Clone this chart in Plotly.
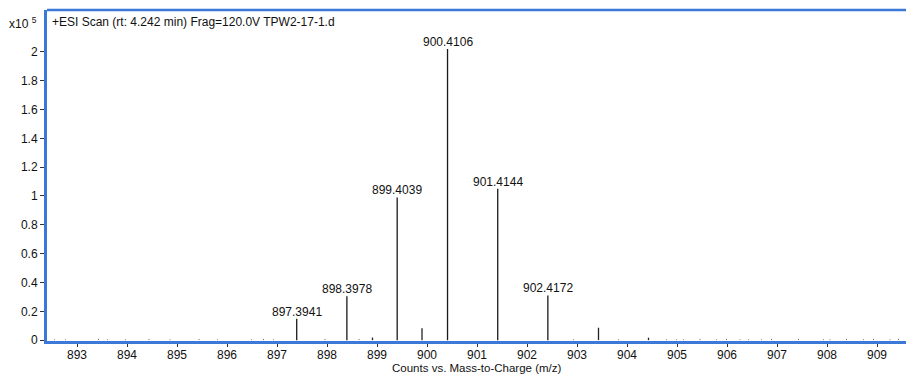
import plotly.graph_objects as go

# Labeled peaks (m/z, counts x10^5)
peak_mz = [897.3941, 898.3978, 899.4039, 900.4106, 901.4144, 902.4172]
peak_h = [0.148, 0.305, 0.99, 2.02, 1.05, 0.31]
peak_labels = ["897.3941", "898.3978", "899.4039", "900.4106", "901.4144", "902.4172"]

# Unlabeled small peaks
small_mz = [899.90, 903.43, 898.91, 904.43]
small_h = [0.083, 0.086, 0.018, 0.017]

# Baseline noise
noise_mz = [892.55, 892.77, 893.43, 893.61, 893.97, 894.44, 894.86, 895.44, 895.81,
            896.49, 896.73, 896.93, 897.96, 898.64, 902.93, 903.83, 904.79, 904.99,
            905.13, 905.46, 905.79, 905.99, 906.26, 906.43, 906.69, 906.89, 907.43,
            907.93, 908.06, 908.39, 908.73, 908.93, 909.26, 909.43]
noise_h = [0.006, 0.006, 0.008, 0.006, 0.006, 0.008, 0.006, 0.008, 0.006,
           0.006, 0.008, 0.006, 0.008, 0.008, 0.006, 0.006, 0.006, 0.006,
           0.006, 0.008, 0.006, 0.008, 0.006, 0.006, 0.006, 0.008, 0.008,
           0.006, 0.006, 0.008, 0.006, 0.008, 0.006, 0.008]

x_ticks = list(range(893, 910))
y_ticks = [0, 0.2, 0.4, 0.6, 0.8, 1, 1.2, 1.4, 1.6, 1.8, 2]
y_tick_text = ["0", "0.2", "0.4", "0.6", "0.8", "1", "1.2", "1.4", "1.6", "1.8", "2"]

FONT = "Liberation Sans, Arial"


def stems(xs, ys):
    sx, sy = [], []
    for x, y in zip(xs, ys):
        sx += [x, x, None]
        sy += [0, y, None]
    return sx, sy


fig = go.Figure()

nx, ny = stems(noise_mz, noise_h)
fig.add_trace(go.Scatter(x=nx, y=ny, mode="lines", line=dict(color="#777777", width=1),
                         hoverinfo="skip", showlegend=False))
sx, sy = stems(small_mz, small_h)
fig.add_trace(go.Scatter(x=sx, y=sy, mode="lines", line=dict(color="#222222", width=1.3),
                         hoverinfo="skip", showlegend=False))
px, py = stems(peak_mz, peak_h)
fig.add_trace(go.Scatter(x=px, y=py, mode="lines", line=dict(color="#1a1a1a", width=1.3),
                         showlegend=False))

for mz, h, lab in zip(peak_mz, peak_h, peak_labels):
    fig.add_annotation(x=mz, y=h, text=lab, showarrow=False, xanchor="center",
                       yanchor="bottom", yshift=-2,
                       font=dict(family=FONT, size=12, color="#111111"))

# Title inside plot
fig.add_annotation(xref="paper", yref="paper", x=0.003, y=1, xanchor="left", yanchor="top",
                   yshift=-3, showarrow=False,
                   text="+ESI Scan (rt: 4.242 min) Frag=120.0V TPW2-17-1.d",
                   font=dict(family=FONT, size=12, color="#111111"))
# Exponent label
fig.add_annotation(xref="paper", yref="paper", x=-0.0095, y=1, xanchor="right", yanchor="top",
                   yshift=-3, showarrow=False,
                   text="x10 <sup>5</sup>",
                   font=dict(family=FONT, size=12, color="#111111"))

# X axis title
fig.add_annotation(xref="paper", yref="paper", x=0.5, y=0, xanchor="center", yanchor="top",
                   yshift=-20, showarrow=False, borderpad=0,
                   text="Counts vs. Mass-to-Charge (m/z)",
                   font=dict(family=FONT, size=11.5, color="#111111"))

# Top border
fig.add_shape(type="line", xref="paper", yref="paper", x0=0, x1=1, y0=1, y1=1,
              line=dict(color="#3b78d8", width=2.5))

fig.update_layout(
    width=906, height=375,
    margin=dict(l=47, r=0, t=10, b=34),
    paper_bgcolor="white", plot_bgcolor="white",
    font=dict(family=FONT, size=12, color="#111111"),
    xaxis=dict(range=[892.4, 909.58], tickvals=x_ticks, ticks="outside", ticklen=3,
               tickcolor="#333333", showgrid=False, zeroline=False,
               showline=True, linecolor="#3b78d8", linewidth=3,
               ticklabelstandoff=-2,
               tickfont=dict(size=12)),
    yaxis=dict(range=[-0.006, 2.29], tickvals=y_ticks, ticktext=y_tick_text,
               ticks="outside", ticklen=4, tickcolor="#333333",
               showgrid=False, zeroline=False,
               showline=True, linecolor="#3b78d8", linewidth=3,
               tickfont=dict(size=12)),
)

fig.write_html("out.html")
